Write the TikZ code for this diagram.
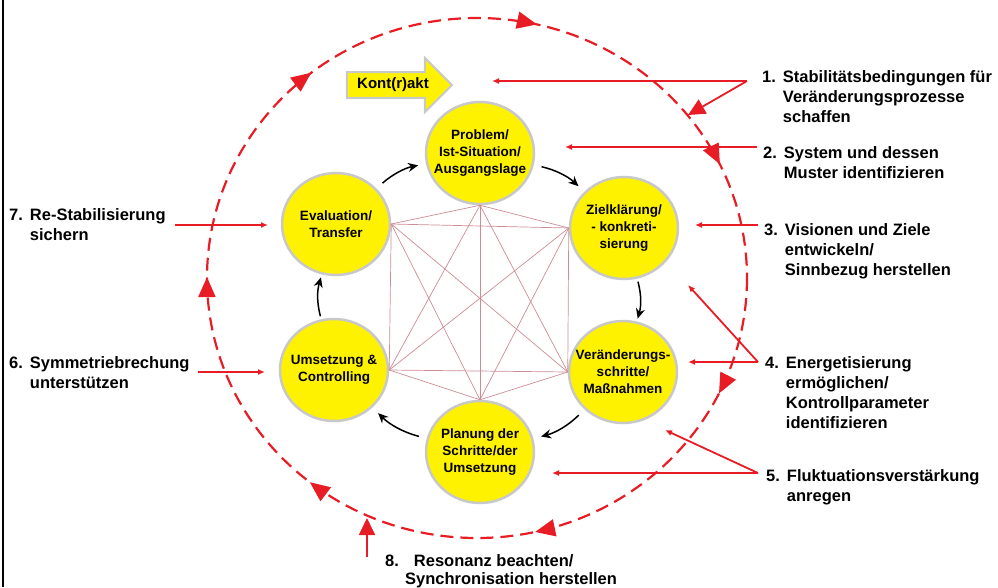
\documentclass[tikz,border=0pt]{standalone}
\usepackage{fontspec}
\setmainfont{Liberation Sans}
\usetikzlibrary{arrows.meta,shapes.geometric,shapes.arrows,decorations.markings}

\definecolor{signalred}{RGB}{232,28,36}
\definecolor{webrose}{RGB}{205,140,148}
\definecolor{rimgray}{RGB}{200,200,200}

% number + hanging text block, baseline = first line
\newcommand{\numitem}[2]{#1\hspace{7pt}\begin{tabular}[t]{@{}l@{}}#2\end{tabular}}

\begin{document}
\begin{tikzpicture}[x=1pt, y=-1pt,
    bubble/.style={ellipse, draw=rimgray, line width=2.5pt, fill=yellow, minimum width=108pt, minimum height=102pt, inner sep=0pt},
    bubtxt/.style={align=center, inner sep=0pt, font=\fontsize{13.5}{17}\selectfont\bfseries},
    cue/.style={anchor=base west, inner sep=0pt, font=\fontsize{16.5}{20}\selectfont\bfseries},
    flow/.style={-{Stealth[length=10pt,width=9pt]}, line width=1.5pt, shorten <=8pt, shorten >=8pt},
    pull/.style={signalred, line width=1.8pt, -{Latex[length=7pt,width=6pt]}},
    bigpull/.style={signalred, line width=1.8pt, -{Triangle[length=17pt,width=16pt]}},
    web/.style={webrose, line width=0.7pt}]
    \useasboundingbox (0,0) rectangle (998,587);
    \draw[line width=2pt] (3,0) -- (3,587);

    % outer cycle
    \draw[signalred, line width=2.2pt, dash pattern=on 13pt off 7pt,
        postaction={decorate},
        decoration={markings, mark=between positions 0.072 and 0.95 step 0.142857
            with {\arrow[solid]{Triangle[length=20pt,width=17pt,fill=signalred]}}}]
        (477,278) ellipse [x radius=270, y radius=260];

    % process steps
    \node[bubble] (prob) at (480,153) {};
    \node[bubble] (ziel) at (624,228) {};
    \node[bubble] (verand) at (623,372) {};
    \node[bubble] (plan) at (480,452) {};
    \node[bubble] (umsetz) at (334,370) {};
    \node[bubble] (eval) at (336,224) {};

    \node[bubtxt] (probtxt) at (prob) {Problem/\\Ist-Situation/\\Ausgangslage};
    \node[bubtxt] (zieltxt) at (ziel) {Zielklärung/\\- konkreti-\\sierung};
    \node[bubtxt] (verandtxt) at (verand) {Veränderungs-\\schritte/\\Maßnahmen};
    \node[bubtxt] (plantxt) at (plan) {Planung der\\Schritte/der\\Umsetzung};
    \node[bubtxt] (umsetztxt) at (umsetz) {Umsetzung \&\\Controlling};
    \node[bubtxt] (evaltxt) at (eval) {Evaluation/\\Transfer};

    % everything linked with everything
    \foreach \p/\i in {prob.south/1, ziel.west/2, verand.west/3, plan.north/4, umsetz.east/5, eval.east/6}
        \coordinate (w\i) at (\p);
    \foreach \i [evaluate=\i as \k using int(\i+1)] in {1,...,5}
        \foreach \j in {\k,...,6}
            \draw[web] (w\i) -- (w\j);

    \draw[flow] (eval) to[bend left=15] (prob);
    \draw[flow] (prob) to[bend left=15] (ziel);
    \draw[flow, shorten <=3pt, shorten >=3pt] (ziel) to[bend left=15] (verand);
    \draw[flow] (verand) to[bend left=15] (plan);
    \draw[flow] (plan) to[bend left=15] (umsetz);
    \draw[flow, shorten <=3pt, shorten >=3pt] (umsetz) to[bend left=15] (eval);

    \node[single arrow, draw=rimgray, line width=2pt, fill=yellow, minimum height=105pt, minimum width=54pt,
        single arrow head extend=11pt, single arrow head indent=0pt, inner sep=2pt,
        font=\fontsize{15}{18}\selectfont\bfseries] (kontrakt) at (393,85) {Kont(r)akt};

    % hints
    \node[cue] (cue1) at (762,82) {\numitem{1.}{Stabilitätsbedingungen für\\Veränderungsprozesse\\schaffen}};
    \node[cue] (cue2) at (763,158) {\numitem{2.}{System und dessen\\Muster identifizieren}};
    \node[cue] (cue3) at (764,235) {\numitem{3.}{Visionen und Ziele\\entwickeln/\\Sinnbezug herstellen}};
    \node[cue] (cue4) at (765,368) {\numitem{4.}{Energetisierung\\ermöglichen/\\Kontrollparameter\\identifizieren}};
    \node[cue] (cue5) at (766,481) {\numitem{5.}{Fluktuationsverstärkung\\anregen}};
    \node[cue] (cue6) at (9,368) {\numitem{6.}{Symmetriebrechung\\unterstützen}};
    \node[cue] (cue7) at (9,220) {\numitem{7.}{Re-Stabilisierung\\sichern}};
    \node[cue, font=\fontsize{16.5}{18}\selectfont\bfseries] (cue8) at (385,566)
        {\begin{tabular}[t]{@{}l@{}}8.\hspace{15pt}Resonanz beachten/\\\hspace{20pt}Synchronisation herstellen\end{tabular}};

    \coordinate (hub1) at (747,81);
    \coordinate (t1a) at (492,81);
    \coordinate (t1b) at (688,115);
    \coordinate (s2) at (757,147);
    \coordinate (t2) at (565,147);
    \coordinate (s3) at (758,225);
    \coordinate (t3) at (695,225);
    \coordinate (hub4) at (758,362);
    \coordinate (t4a) at (688,362);
    \coordinate (t4b) at (688,285);
    \coordinate (hub5) at (758,473);
    \coordinate (t5a) at (552,473);
    \coordinate (t5b) at (665,430);
    \coordinate (s6) at (198,372);
    \coordinate (t6) at (265,372);
    \coordinate (s7) at (175,225);
    \coordinate (t7) at (268,225);
    \coordinate (s8) at (367,557);
    \coordinate (t8) at (367,518);

    \draw[pull] (hub1) -- (t1a);
    \draw[bigpull] (hub1) -- (t1b);
    \draw[pull] (s2) -- (t2);
    \draw[pull] (s3) -- (t3);
    \draw[pull] (hub4) -- (t4a);
    \draw[pull] (hub4) -- (t4b);
    \draw[pull] (hub5) -- (t5a);
    \draw[pull] (hub5) -- (t5b);
    \draw[pull] (s6) -- (t6);
    \draw[pull] (s7) -- (t7);
    \draw[bigpull] (s8) -- (t8);
\end{tikzpicture}
\end{document}
